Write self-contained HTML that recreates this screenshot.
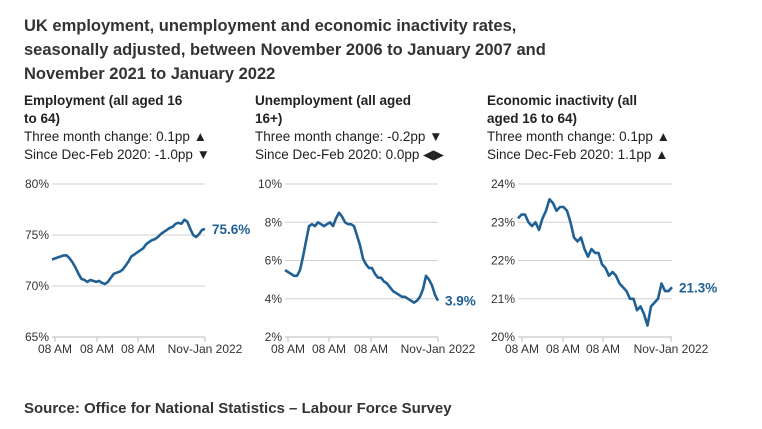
<!DOCTYPE html>
<html><head><meta charset="utf-8">
<style>
body{margin:0;background:#fff;font-family:"Liberation Sans",sans-serif;color:#222;}
#wrap{position:relative;width:762px;height:429px;overflow:hidden;}
.t{position:absolute;white-space:nowrap;}
</style></head>
<body>
<div id="wrap">
<div class="t" style="left:24px;top:14px;font-size:16.5px;font-weight:bold;line-height:24px;color:#333;">UK employment, unemployment and economic inactivity rates,<br>seasonally adjusted, between November 2006 to January 2007 and<br>November 2021 to January 2022</div>
<div class="t" style="left:24px;top:92px;font-size:13.5px;line-height:18px;"><b>Employment (all aged 16<br>to 64)</b><br>Three month change: 0.1pp ▲<br>Since Dec-Feb 2020: -1.0pp ▼</div>
<div class="t" style="left:255px;top:92px;font-size:13.5px;line-height:18px;"><b>Unemployment (all aged<br>16+)</b><br>Three month change: -0.2pp ▼<br>Since Dec-Feb 2020: 0.0pp ◀▶</div>
<div class="t" style="left:487px;top:92px;font-size:13.5px;line-height:18px;"><b>Economic inactivity (all<br>aged 16 to 64)</b><br>Three month change: 0.1pp ▲<br>Since Dec-Feb 2020: 1.1pp ▲</div>
<svg id="svg" width="762" height="429" style="position:absolute;left:0;top:0"></svg>
<div class="t" style="left:24px;top:400px;font-size:15px;font-weight:bold;color:#333;">Source: Office for National Statistics – Labour Force Survey</div>
</div>
<script>
const xTickLabels=["08 AM","08 AM","08 AM","Nov-Jan 2022"];
const empTicks=[65,70,75,80];
const empValues=[72.6,72.7,72.8,72.9,73.0,73.0,72.7,72.3,71.8,71.2,70.7,70.6,70.4,70.6,70.5,70.4,70.5,70.3,70.2,70.4,70.8,71.2,71.3,71.4,71.6,72.0,72.4,72.9,73.1,73.3,73.5,73.7,74.1,74.3,74.5,74.6,74.8,75.1,75.3,75.5,75.7,75.8,76.1,76.2,76.1,76.5,76.3,75.6,75.0,74.8,75.1,75.5,75.6];
const unTicks=[2,4,6,8,10];
const unValues=[5.5,5.4,5.3,5.2,5.2,5.5,6.2,7.0,7.8,7.9,7.8,8.0,7.9,7.8,7.9,8.0,7.8,8.2,8.5,8.3,8.0,7.9,7.9,7.8,7.3,6.8,6.1,5.8,5.6,5.6,5.3,5.1,5.1,4.9,4.8,4.6,4.4,4.3,4.2,4.1,4.1,4.0,3.9,3.8,3.9,4.1,4.5,5.2,5.0,4.7,4.2,3.9];
const inTicks=[20,21,22,23,24];
const inValues=[23.1,23.2,23.2,23.0,22.9,23.0,22.8,23.1,23.3,23.6,23.5,23.3,23.4,23.4,23.3,23.0,22.6,22.5,22.6,22.3,22.1,22.3,22.2,22.2,21.9,21.8,21.6,21.7,21.6,21.4,21.3,21.2,21.0,21.0,20.7,20.8,20.6,20.3,20.8,20.9,21.0,21.4,21.2,21.2,21.3];
const svg=document.getElementById('svg');const NS='http://www.w3.org/2000/svg';
function mk(t,a,p){const e=document.createElementNS(NS,t);for(const k in a)e.setAttribute(k,a[k]);(p||svg).appendChild(e);return e;}
function panel(name,vals,ticks,x0,x1,xt,lab){
 const g=mk('g',{});
 
 
 const ymin=ticks[0],ymax=ticks[ticks.length-1],top=184,bot=337;
 const y=v=>bot-(v-ymin)/(ymax-ymin)*(bot-top);
 const x=i=>x0+i/(vals.length-1)*(x1-x0);
 ticks.forEach(t=>{
  const l=mk('line',{x1:x0,x2:x1,y1:y(t),y2:y(t),stroke:t==ymin?'#bbb':'#d0d0d0','stroke-width':1},g);
  
  
  const tx=mk('text',{x:x0-3,y:y(t)+4,'text-anchor':'end','font-size':12,fill:'#333'},g);tx.textContent=t+'%';
  
  
 });
 xt.forEach((px,i)=>{
  mk('line',{x1:px,x2:px,y1:bot,y2:bot+5,stroke:'#bbb'},g);
  const tx=mk('text',{x:px,y:bot+16,'text-anchor':i==3?'middle':'middle','font-size':12,fill:'#333'},g);tx.textContent=xTickLabels[i];
  
  
 });
 const p=mk('path',{d:vals.map((v,i)=>(i?'L':'M')+x(i).toFixed(1)+' '+y(v).toFixed(1)).join(''),fill:'none',stroke:'#206095','stroke-width':2.6,'stroke-linejoin':'round'},g);
 
 
 const l=mk('text',{x:x1+7,y:y(vals[vals.length-1])+5,'font-size':13.5,'font-weight':'bold',fill:'#206095'},g);l.textContent=vals[vals.length-1].toFixed(1)+'%';
 
 
}
panel('employment',empValues,empTicks,52,205,[55,97,138,205]);
panel('unemployment',unValues,unTicks,285,438,[288,329,371,438]);
panel('inactivity',inValues,inTicks,518,672,[522,563,603,671]);
</script>
</body></html>
